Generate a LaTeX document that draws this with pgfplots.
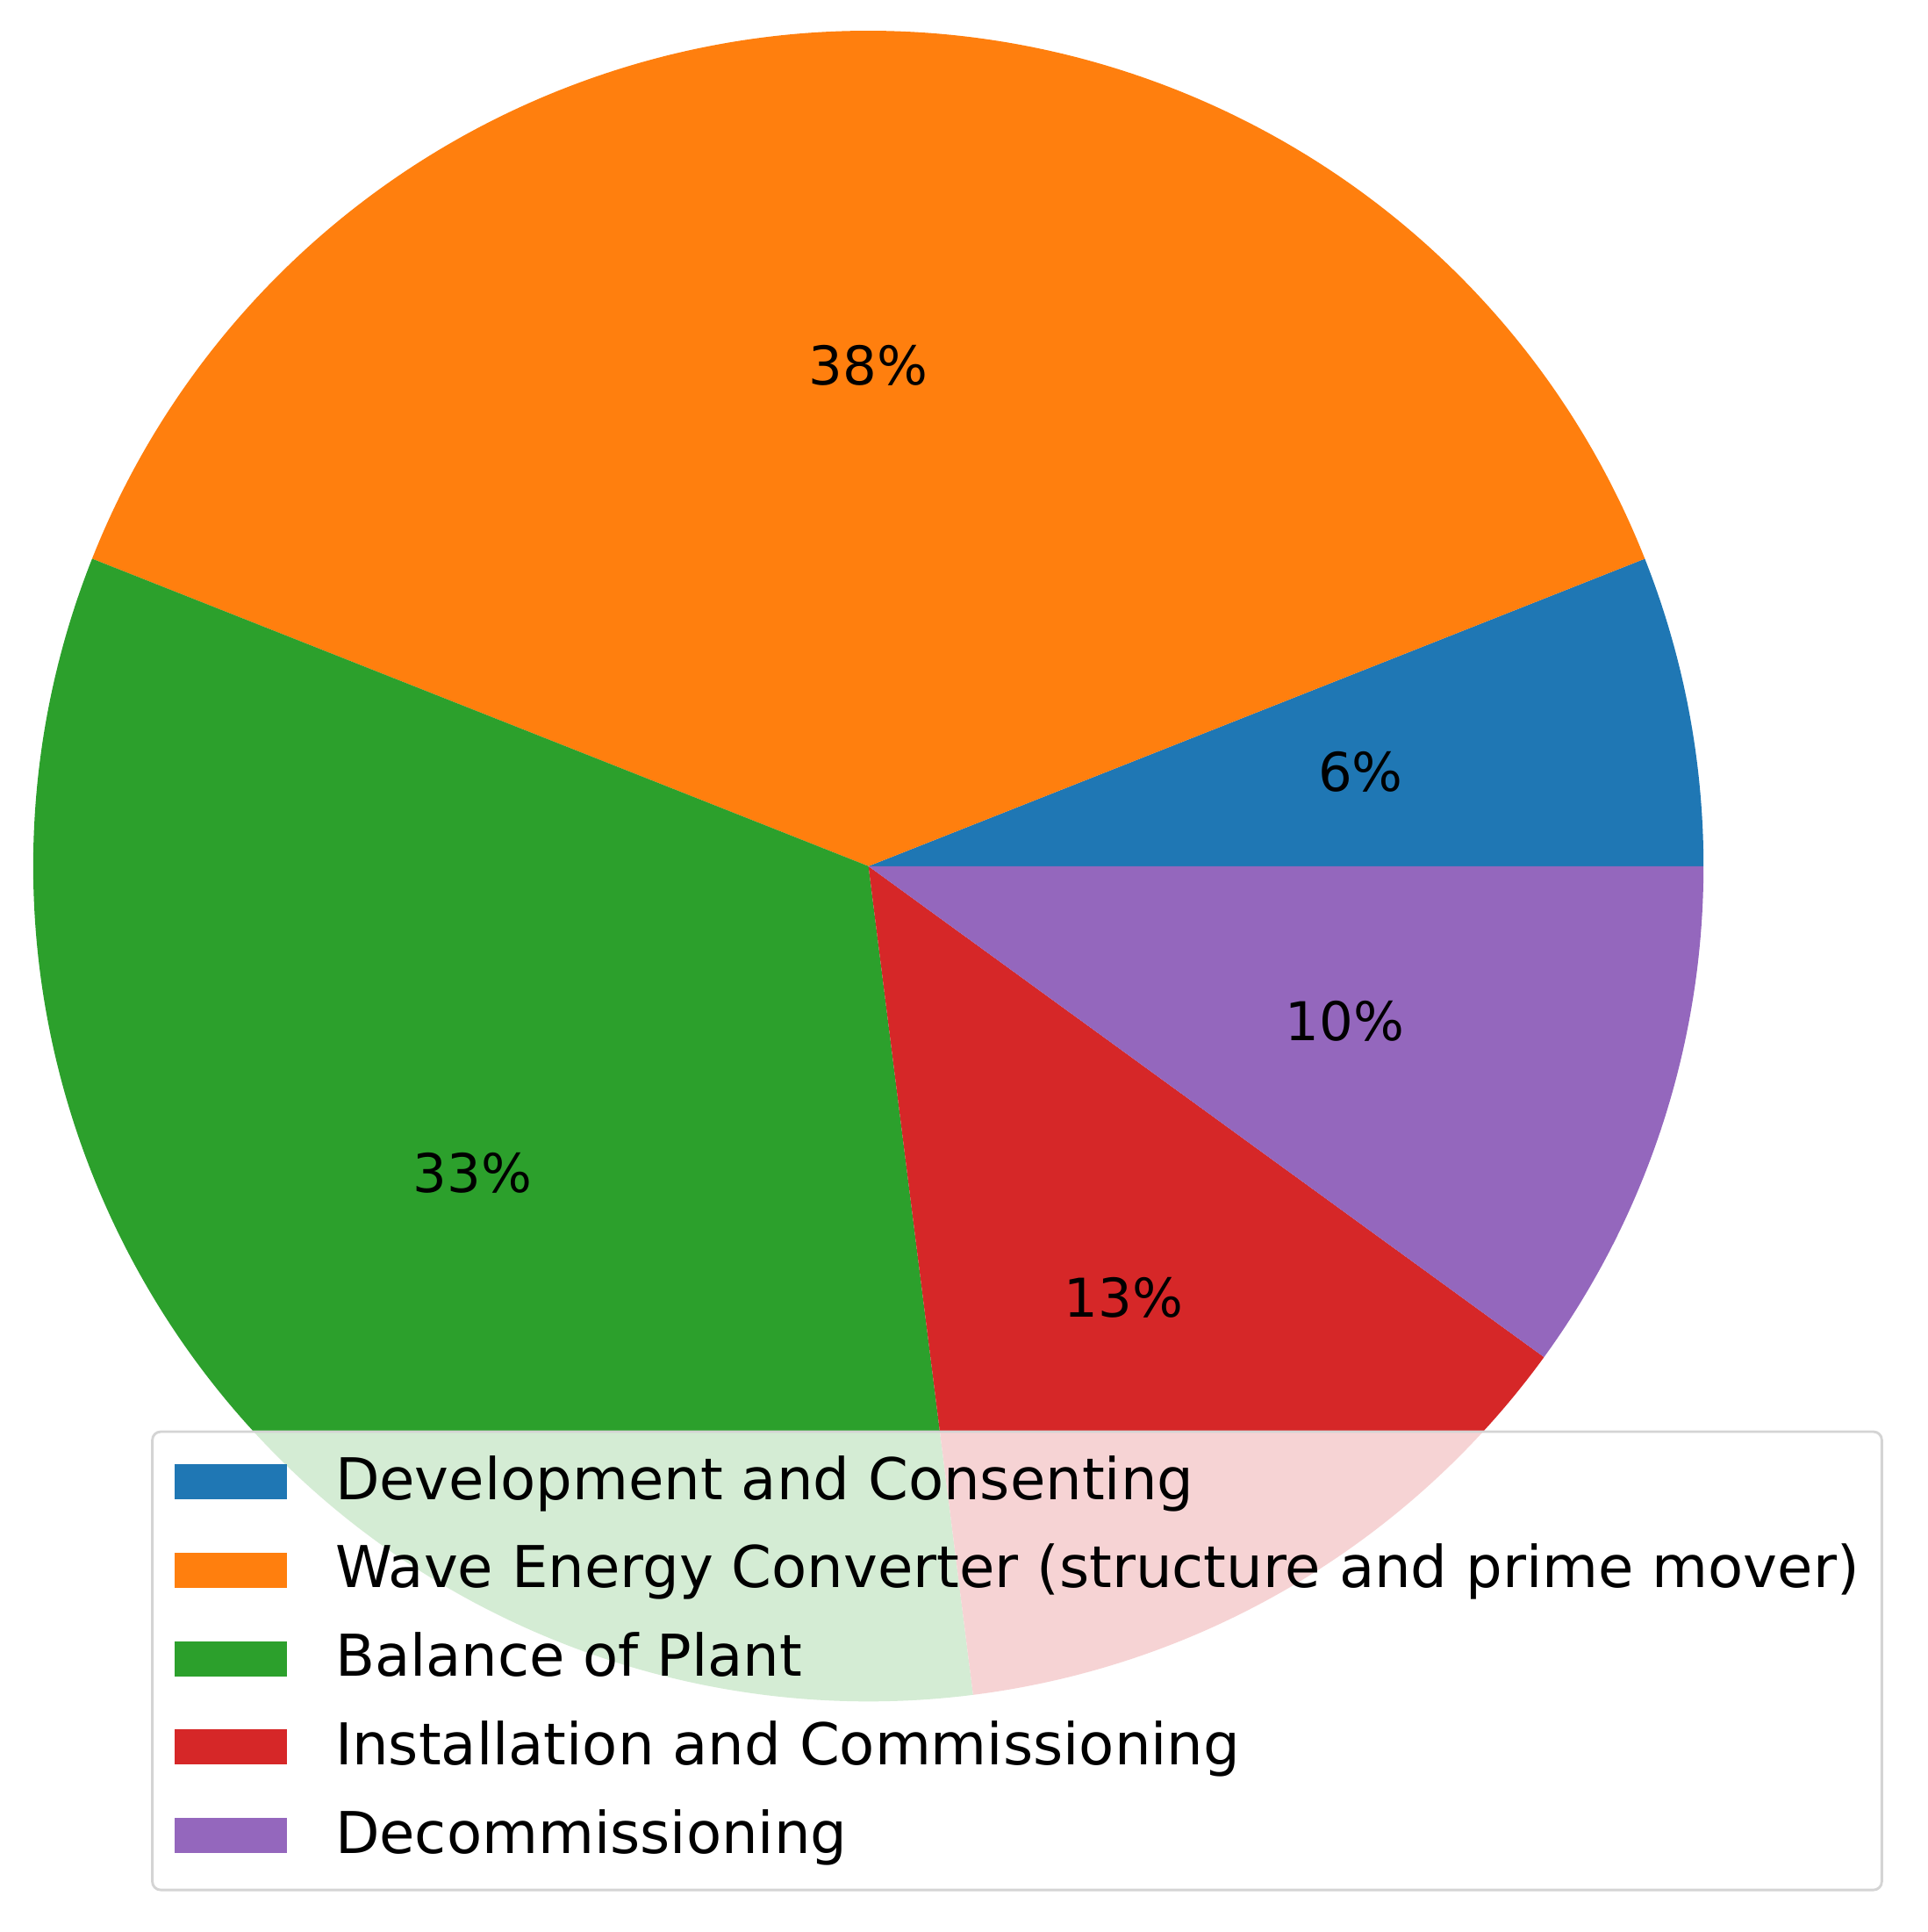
\documentclass[border=0pt]{standalone}
\usepackage{fontspec}
\setmainfont{DejaVu Sans}
\usepackage{pgfplots}
\usepackage{pgfplotstable}
\pgfplotsset{compat=1.18}
\definecolor{cA}{HTML}{1F77B4}
\definecolor{cB}{HTML}{FF7F0E}
\definecolor{cC}{HTML}{2CA02C}
\definecolor{cD}{HTML}{D62728}
\definecolor{cE}{HTML}{9467BD}
\newcommand\legfont{\fontsize{6.9}{8}\selectfont}
\newcommand\pctfont{\fontsize{6.4}{7.5}\selectfont}

\pgfplotstableread{
share
6
38
33
13
10
}\piedata

\newcommand\slice[4]{%
  \fill[#1] (axis cs:0,0) -- (axis cs:{cos(#2)},{sin(#2)}) arc[start angle=#2, end angle=#3, radius=100pt] -- cycle;
}
\newcommand\slicelabel[3]{%
  \node[font=\pctfont, text=black, inner sep=0pt] at (axis cs:{0.6*cos((#1+#2)/2)},{0.6*sin((#1+#2)/2)}) {#3\%};
}

\begin{document}
\pgfplotstablegetelem{0}{share}\of\piedata\edef\vA{\pgfplotsretval}%
\pgfplotstablegetelem{1}{share}\of\piedata\edef\vB{\pgfplotsretval}%
\pgfplotstablegetelem{2}{share}\of\piedata\edef\vC{\pgfplotsretval}%
\pgfplotstablegetelem{3}{share}\of\piedata\edef\vD{\pgfplotsretval}%
\pgfplotstablegetelem{4}{share}\of\piedata\edef\vE{\pgfplotsretval}%
\pgfmathsetmacro\tot{\vA+\vB+\vC+\vD+\vE}%
\pgfmathsetmacro\aA{0}%
\pgfmathsetmacro\aB{\aA+360*\vA/\tot}%
\pgfmathsetmacro\aC{\aB+360*\vB/\tot}%
\pgfmathsetmacro\aD{\aC+360*\vC/\tot}%
\pgfmathsetmacro\aE{\aD+360*\vD/\tot}%
\pgfmathsetmacro\aF{360}%
\begin{tikzpicture}
\begin{axis}[
  x=100pt, y=100pt,
  xmin=-1.040, xmax=1.268, ymin=-1.276, ymax=1.037,
  hide axis,
  legend image code/.code={\path[#1, draw=none, fill opacity=1, rounded corners=0pt] (0pt,0pt) rectangle (13.45pt,4.2pt); \path (19.05pt,0pt);},
  legend style={at={(0.0784,0.2596)}, anchor=north west,
    fill=white, fill opacity=0.8, draw opacity=1, text opacity=1,
    draw=black!17, line width=0.3pt, rounded corners=1pt,
    inner xsep=2.7pt, inner ysep=2.5pt, row sep=3.09pt,
    font=\legfont,
    cells={anchor=base west},
    nodes={inner sep=0pt, text height=5.6pt, text depth=1.9pt}},
]
\path (axis cs:-1.040,-1.276) rectangle (axis cs:1.268,1.037);
\slice{cA}{\aA}{\aB}{\vA}
\slice{cB}{\aB}{\aC}{\vB}
\slice{cC}{\aC}{\aD}{\vC}
\slice{cD}{\aD}{\aE}{\vD}
\slice{cE}{\aE}{\aF}{\vE}
\slicelabel{\aA}{\aB}{\vA}
\slicelabel{\aB}{\aC}{\vB}
\slicelabel{\aC}{\aD}{\vC}
\slicelabel{\aD}{\aE}{\vD}
\slicelabel{\aE}{\aF}{\vE}
\addlegendimage{fill=cA}\addlegendentry{Development and Consenting}
\addlegendimage{fill=cB}\addlegendentry{Wave Energy Converter (structure and prime mover)}
\addlegendimage{fill=cC}\addlegendentry{Balance of Plant}
\addlegendimage{fill=cD}\addlegendentry{Installation and Commissioning}
\addlegendimage{fill=cE}\addlegendentry{Decommissioning}
\end{axis}
\end{tikzpicture}
\end{document}
